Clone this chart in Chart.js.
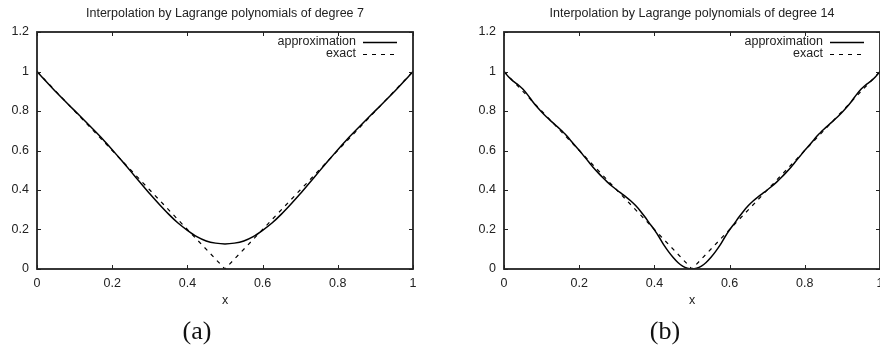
<!DOCTYPE html>
<html>
<head>
<meta charset="utf-8">
<title>Lagrange interpolation</title>
<script src="https://cdn.jsdelivr.net/npm/chart.js@4/dist/chart.umd.min.js"></script>
<style>
  html, body { margin: 0; padding: 0; background: #fff; }
  body { width: 880px; height: 347px; overflow: hidden; position: relative; }
  .panel { position: absolute; top: 0; }
  .ttl { position: absolute; width: 400px; text-align: center; font: 12.5px "Liberation Sans", Arial, sans-serif; line-height: 14px; color: #222; top: 6px; white-space: nowrap; }
  .cap { position: absolute; width: 100px; text-align: center; font: 26px "Liberation Serif", "DejaVu Serif", serif; line-height: 28px; color: #111; top: 317px; }
</style>
</head>
<body>
<div class="panel" style="left:0;width:440px;height:347px"><canvas id="chartA" width="440" height="347"></canvas></div>
<div class="panel" style="left:440px;width:470px;height:347px"><canvas id="chartB" width="470" height="347"></canvas></div>
<div class="ttl" style="left:25px">Interpolation by Lagrange polynomials of degree 7</div>
<div class="ttl" style="left:492px">Interpolation by Lagrange polynomials of degree 14</div>
<div class="cap" style="left:147px">(a)</div>
<div class="cap" style="left:615px">(b)</div>
<script>
// Axis ticks shared by both panels
const xTicks = [0, 0.2, 0.4, 0.6, 0.8, 1];
const yTicks = [0, 0.2, 0.4, 0.6, 0.8, 1, 1.2];

// Exact function |2x - 1|
const xExact = [0, 0.1, 0.2, 0.3, 0.4, 0.5, 0.6, 0.7, 0.8, 0.9, 1];
const exactVals = [1, 0.8, 0.6, 0.4, 0.2, 0, 0.2, 0.4, 0.6, 0.8, 1];

// Degree 7 interpolant, sampled every 0.025
const x7 = [0, 0.025, 0.05, 0.075, 0.1, 0.125, 0.15, 0.175, 0.2, 0.225, 0.25, 0.275, 0.3, 0.325, 0.35, 0.375, 0.4, 0.425, 0.45, 0.475, 0.5,
            0.525, 0.55, 0.575, 0.6, 0.625, 0.65, 0.675, 0.7, 0.725, 0.75, 0.775, 0.8, 0.825, 0.85, 0.875, 0.9, 0.925, 0.95, 0.975, 1];
const approx7 = [1.000, 0.948, 0.897, 0.849, 0.802, 0.754, 0.706, 0.657, 0.604, 0.549, 0.493, 0.437, 0.381, 0.328, 0.278, 0.233, 0.196, 0.164, 0.142, 0.131, 0.127,
                 0.131, 0.142, 0.164, 0.196, 0.233, 0.278, 0.328, 0.381, 0.437, 0.493, 0.549, 0.604, 0.657, 0.706, 0.754, 0.802, 0.849, 0.897, 0.948, 1.000];

// Degree 14 interpolant, sampled every 0.0125
const x14 = [0, 0.0125, 0.025, 0.0375, 0.05, 0.0625, 0.075, 0.0875, 0.1, 0.1125, 0.125, 0.1375, 0.15, 0.1625, 0.175, 0.1875, 0.2, 0.2125, 0.225, 0.2375,
             0.25, 0.2625, 0.275, 0.2875, 0.3, 0.3125, 0.325, 0.3375, 0.35, 0.3625, 0.375, 0.3875, 0.4, 0.4125, 0.425, 0.4375, 0.45, 0.4625, 0.475, 0.4875, 0.5,
             0.5125, 0.525, 0.5375, 0.55, 0.5625, 0.575, 0.5875, 0.6, 0.6125, 0.625, 0.6375, 0.65, 0.6625, 0.675, 0.6875, 0.7, 0.7125, 0.725, 0.7375,
             0.75, 0.7625, 0.775, 0.7875, 0.8, 0.8125, 0.825, 0.8375, 0.85, 0.8625, 0.875, 0.8875, 0.9, 0.9125, 0.925, 0.9375, 0.95, 0.9625, 0.975, 0.9875, 1];
const approx14 = [1.000, 0.972, 0.950, 0.933, 0.911, 0.883, 0.851, 0.821, 0.795, 0.771, 0.749, 0.728, 0.706, 0.683, 0.656, 0.628, 0.601, 0.572, 0.543, 0.514,
                  0.488, 0.463, 0.440, 0.419, 0.400, 0.382, 0.364, 0.344, 0.321, 0.294, 0.263, 0.230, 0.198, 0.162, 0.122, 0.088, 0.058, 0.033, 0.015, 0.004, 0.000,
                  0.004, 0.015, 0.033, 0.058, 0.088, 0.122, 0.162, 0.198, 0.230, 0.263, 0.294, 0.321, 0.344, 0.364, 0.382, 0.400, 0.419, 0.440, 0.463,
                  0.488, 0.514, 0.543, 0.572, 0.601, 0.628, 0.656, 0.683, 0.706, 0.728, 0.749, 0.771, 0.795, 0.821, 0.851, 0.883, 0.911, 0.933, 0.950, 0.972, 1.000];

const INK = '#222';
const FONT = { family: '"Liberation Sans", Arial, sans-serif', size: 12.5 };

const pts = (xs, ys) => xs.map((x, i) => ({ x: x, y: ys[i] }));

// Closed border with inward tick marks on all four sides
const frameTicks = {
  id: 'frameTicks',
  afterDatasetsDraw(chart) {
    const { ctx, chartArea: { left, right, top, bottom }, scales: { x, y } } = chart;
    ctx.save();
    ctx.strokeStyle = INK;
    ctx.lineWidth = 1;
    ctx.beginPath();
    x.ticks.forEach(t => {
      const px = Math.round(x.getPixelForValue(t.value)) + 0.5;
      ctx.moveTo(px, bottom); ctx.lineTo(px, bottom - 4);
      ctx.moveTo(px, top); ctx.lineTo(px, top + 4);
    });
    y.ticks.forEach(t => {
      const py = Math.round(y.getPixelForValue(t.value)) + 0.5;
      ctx.moveTo(left, py); ctx.lineTo(left + 4, py);
      ctx.moveTo(right, py); ctx.lineTo(right - 4, py);
    });
    ctx.stroke();
    ctx.lineWidth = 1.8;
    ctx.strokeRect(left, top, right - left, bottom - top);
    ctx.restore();
  }
};

// Key in the upper right corner: label right-aligned, line sample after it
const cornerKey = {
  id: 'cornerKey',
  afterDraw(chart) {
    const { ctx, chartArea: { right, top } } = chart;
    ctx.save();
    chart.data.datasets.forEach((ds, i) => {
      const yy = top + 10 + i * 12;
      ctx.font = '12.5px "Liberation Sans", Arial, sans-serif';
      ctx.fillStyle = INK;
      ctx.textAlign = 'right';
      ctx.textBaseline = 'middle';
      ctx.fillText(ds.label, right - 57, yy);
      ctx.strokeStyle = ds.borderColor;
      ctx.lineWidth = ds.borderWidth;
      ctx.setLineDash(ds.borderDash || []);
      ctx.beginPath();
      ctx.moveTo(right - 50, yy + 0.5);
      ctx.lineTo(right - 16, yy + 0.5);
      ctx.stroke();
    });
    ctx.restore();
  }
};

function makePanel(id, xs, ys, axisWidth, padRight) {
  return new Chart(document.getElementById(id), {
    type: 'line',
    data: {
      datasets: [
        { label: 'approximation', data: pts(xs, ys), borderColor: '#000', borderWidth: 1.5, tension: 0.2, pointRadius: 0, fill: false, order: 1 },
        { label: 'exact', data: pts(xExact, exactVals), borderColor: '#000', borderWidth: 1.2, borderDash: [4, 5], tension: 0, pointRadius: 0, fill: false, order: 0 }
      ]
    },
    options: {
      responsive: false,
      animation: false,
      layout: { padding: { top: 32, right: padRight, bottom: 39, left: 0 } },
      plugins: { legend: { display: false }, tooltip: { enabled: false }, title: { display: false } },
      scales: {
        x: {
          type: 'linear', min: 0, max: 1,
          grid: { display: false, drawTicks: false },
          border: { display: false },
          afterBuildTicks: s => { s.ticks = xTicks.map(v => ({ value: v })); },
          afterFit: s => { s.height = 39; },
          ticks: { padding: 7, color: INK, font: FONT, maxRotation: 0, autoSkip: false, callback: v => String(v) },
          title: { display: true, text: 'x', color: INK, font: FONT, padding: 0 }
        },
        y: {
          type: 'linear', min: 0, max: 1.2,
          grid: { display: false, drawTicks: false },
          border: { display: false },
          afterBuildTicks: s => { s.ticks = yTicks.map(v => ({ value: v })); },
          afterFit: s => { s.width = axisWidth; },
          ticks: { padding: 8, color: INK, font: FONT, autoSkip: false, callback: v => String(v) }
        }
      }
    },
    plugins: [frameTicks, cornerKey]
  });
}

makePanel('chartA', x7, approx7, 37, 27);
makePanel('chartB', x14, approx14, 64, 30);
</script>
</body>
</html>
